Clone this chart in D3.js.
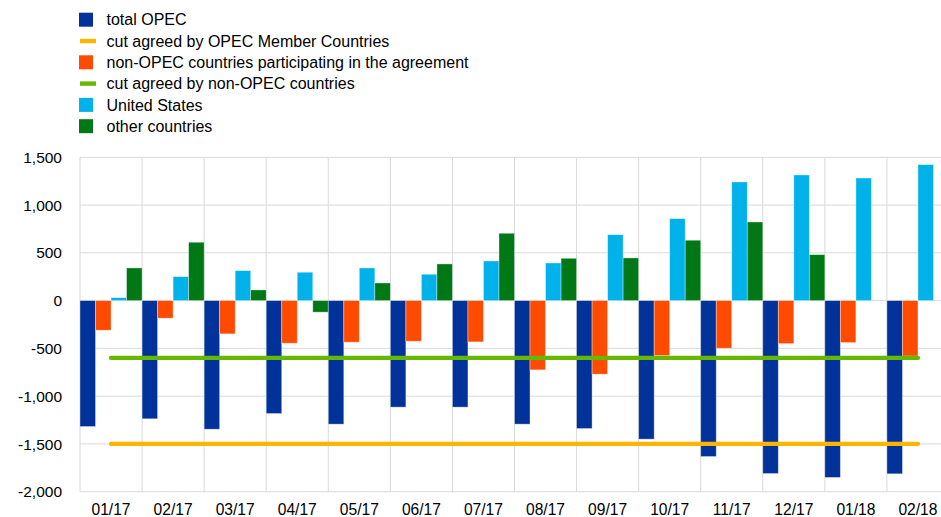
<!DOCTYPE html>
<html><head><meta charset="utf-8">
<script src="https://cdn.jsdelivr.net/npm/d3@7"></script>
<style>body{margin:0;background:#fff;overflow:hidden}svg{display:block}text{font-family:"Liberation Sans",Arial,sans-serif;fill:#000}</style>
</head><body><svg id="c" width="941" height="517"></svg>
<script>
const categories = ["01/17","02/17","03/17","04/17","05/17","06/17","07/17","08/17","09/17","10/17","11/17","12/17","01/18","02/18"];
const totalOPEC = [-1318,-1237,-1346,-1182,-1293,-1115,-1115,-1293,-1339,-1450,-1632,-1810,-1851,-1813];
const nonOPEC = [-310,-184,-348,-446,-435,-425,-432,-725,-770,-575,-498,-450,-439,-580];
const unitedStates = [31,251,314,297,342,276,415,394,690,858,1242,1315,1283,1423];
const otherCountries = [342,611,112,-121,185,384,705,443,447,632,823,481,null,null];
const cutOPEC = -1500;
const cutNonOPEC = -600;
const yTicks = [-2000,-1500,-1000,-500,0,500,1000,1500];

const seriesNames = ["total OPEC","cut agreed by OPEC Member Countries","non-OPEC countries participating in the agreement","cut agreed by non-OPEC countries","United States","other countries"];
const colors = {opec:"#003299", cutOpec:"#FFB400", non:"#FF4B00", cutNon:"#65B800", us:"#00B1EA", other:"#007816"};

const svg = d3.select("#c");
const L = 80, R = 949, T = 157.3, B = 491.7;
const x = d3.scaleBand().domain(categories).range([L, R]).paddingInner(0).paddingOuter(0);
const y = d3.scaleLinear().domain([-2000, 1500]).range([B, T]);
const barKeys = ["opec","non","us","other"];
const xs = d3.scaleBand().domain(barKeys).range([0, x.bandwidth()]).padding(0);

// grid
const g = svg.append("g");
g.selectAll(".hg").data(yTicks).join("line")
  .attr("x1", L).attr("x2", R).attr("y1", d=>y(d)).attr("y2", d=>y(d))
  .attr("stroke", "#d9d9d9").attr("stroke-width", 1);
g.selectAll(".vg").data(categories.concat(["_end"])).join("line")
  .attr("x1", (d,i)=> i<categories.length ? x(d) : R).attr("x2", (d,i)=> i<categories.length ? x(d) : R)
  .attr("y1", T).attr("y2", B)
  .attr("stroke", "#d9d9d9").attr("stroke-width", 1);

// y labels
svg.append("g").selectAll("text").data(yTicks).join("text")
  .attr("x", 62).attr("y", d=>y(d)).attr("dy", "0.36em")
  .attr("text-anchor", "end").style("font-size", "15.5px")
  .text(d => d3.format(",")(d).replace("−","-"));

// x labels
svg.append("g").selectAll("text").data(categories).join("text")
  .attr("x", d => x(d) + x.bandwidth()/2).attr("y", 515)
  .attr("text-anchor", "middle").style("font-size", "15.6px")
  .text(d => d);

// bars
const data = [];
categories.forEach((c,i) => {
  [["opec", totalOPEC[i]],["non", nonOPEC[i]],["us", unitedStates[i]],["other", otherCountries[i]]].forEach(([k,v]) => {
    if (v !== null) data.push({c, k, v});
  });
});
svg.append("g").selectAll("rect").data(data).join("rect")
  .attr("x", d => x(d.c) + xs(d.k))
  .attr("width", xs.bandwidth())
  .attr("y", d => y(Math.max(0, d.v)))
  .attr("height", d => Math.abs(y(d.v) - y(0)))
  .attr("fill", d => colors[d.k])
  .attr("stroke", "#ffffff").attr("stroke-opacity", 0.45).attr("stroke-width", 0.8);

// cut lines
const lx1 = x(categories[0]) + x.bandwidth()/2;
const lx2 = x(categories[categories.length-1]) + x.bandwidth()/2;
[[cutNonOPEC, colors.cutNon],[cutOPEC, colors.cutOpec]].forEach(([v,col]) => {
  svg.append("line").attr("x1", lx1).attr("x2", lx2).attr("y1", y(v)).attr("y2", y(v))
    .attr("stroke", col).attr("stroke-width", 4.3).attr("stroke-linecap", "round");
});

// legend
const legTypes = ["rect","line","rect","line","rect","rect"];
const legColors = [colors.opec, colors.cutOpec, colors.non, colors.cutNon, colors.us, colors.other];
const lg = svg.append("g");
seriesNames.forEach((n,i) => {
  const cy = 19.7 + i*21.3;
  if (legTypes[i] === "rect") {
    lg.append("rect").attr("x", 79).attr("y", cy-7).attr("width", 14).attr("height", 14).attr("fill", legColors[i]);
  } else {
    lg.append("rect").attr("x", 80).attr("y", cy-2.2).attr("width", 16).attr("height", 4.4).attr("fill", legColors[i]);
  }
  lg.append("text").attr("x", 106.5).attr("y", cy).attr("dy", "0.36em").style("font-size", "16px").text(n);
});
</script></body></html>
